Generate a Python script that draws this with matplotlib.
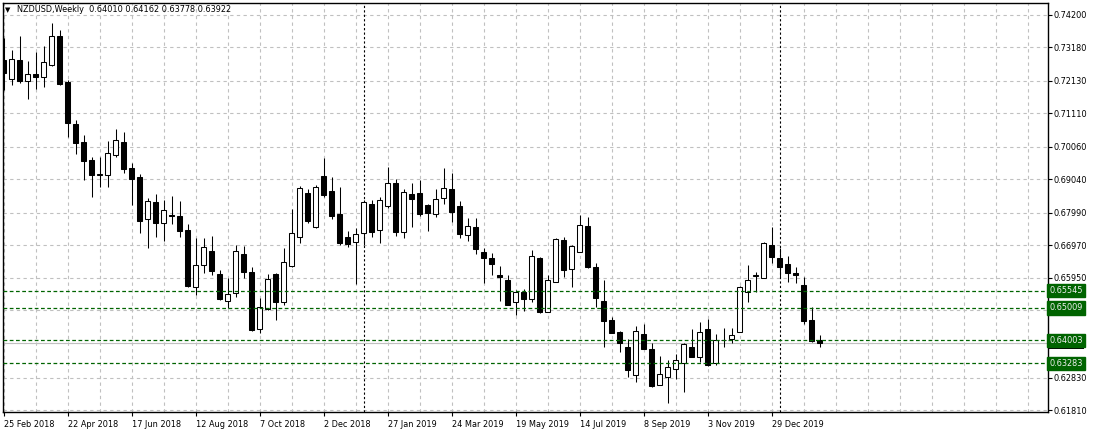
import numpy as np
import matplotlib
matplotlib.use("Agg")
import matplotlib.pyplot as plt
import matplotlib.transforms as mtransforms
from matplotlib.patches import Rectangle

# weekly NZDUSD candles, one per week from 25 Feb 2018
opens = [.7278, .7220, .7278, .7213, .7234, .7226, .7263, .7353, .7210, .7077,
         .7021, .6965, .6917, .6918, .6979, .7021, .6939, .6912, .6779, .6832,
         .6766, .6792, .6789, .6745, .6568, .6635, .6680, .6607, .6522, .6547,
         .6670, .6614, .6436, .6499, .6607, .6521, .6632, .6724, .6860, .6756,
         .6915, .6868, .6795, .6722, .6707, .6737, .6826, .6744, .6821, .6892,
         .6738, .6858, .6860, .6823, .6795, .6845, .6873, .6820, .6730, .6754,
         .6675, .6657, .6604, .6588, .6521, .6550, .6530, .6658, .6489, .6583,
         .6714, .6624, .6677, .6758, .6628, .6523, .6463, .6426, .6379, .6290,
         .6419, .6372, .6259, .6284, .6309, .6329, .6378, .6346, .6434, .6329,
         .6400, .6405, .6427, .6552, .6600, .6596, .6698, .6657, .6638, .6611,
         .6572, .6463, .64010]
highs = [.7346, .7309, .7354, .7275, .7304, .7322, .7395, .7372, .7215, .7090,
         .7043, .6975, .6973, .7024, .7063, .7051, .6954, .6921, .6845, .6857,
         .6839, .6852, .6835, .6764, .6719, .6719, .6727, .6620, .6594, .6698,
         .6695, .6628, .6531, .6607, .6611, .6690, .6810, .6883, .6873, .6886,
         .6970, .6910, .6879, .6743, .6751, .6839, .6839, .6850, .6942, .6904,
         .6874, .6892, .6902, .6827, .6873, .6939, .6925, .6837, .6782, .6782,
         .6688, .6672, .6633, .6604, .6557, .6559, .6683, .6660, .6604, .6719,
         .6724, .6698, .6792, .6787, .6641, .6589, .6474, .6429, .6404, .6445,
         .6451, .6390, .6350, .6338, .6356, .6390, .6435, .6456, .6467, .6419,
         .6438, .6437, .6570, .6636, .6615, .6709, .6756, .6688, .6664, .6630,
         .6599, .6503, .64162]
lows = [.7184, .7201, .7207, .7155, .7186, .7194, .7260, .7200, .7038, .6983,
        .6902, .6850, .6881, .6881, .6975, .6923, .6824, .6735, .6688, .6724,
        .6712, .6763, .6722, .6568, .6542, .6610, .6604, .6526, .6500, .6536,
        .6594, .6430, .6423, .6495, .6463, .6510, .6630, .6706, .6766, .6753,
        .6848, .6780, .6698, .6693, .6576, .6698, .6724, .6706, .6813, .6727,
        .6719, .6756, .6789, .6743, .6787, .6826, .6771, .6719, .6712, .6670,
        .6580, .6604, .6524, .6510, .6479, .6492, .6521, .6486, .6488, .6582,
        .6599, .6568, .6676, .6625, .6503, .6378, .6421, .6362, .6284, .6268,
        .6371, .6254, .6258, .6202, .6277, .6239, .6346, .6332, .6320, .6322,
        .6380, .6392, .6426, .6521, .6552, .6595, .6643, .6599, .6583, .6580,
        .6451, .6395, .63778]
closes = [.7238, .7280, .7213, .7234, .7226, .7272, .7353, .7203, .7082, .7019,
          .6962, .6917, .6920, .6986, .7026, .6937, .6906, .6774, .6837, .6766,
          .6807, .6788, .6743, .6570, .6635, .6691, .6618, .6530, .6545, .6680,
          .6615, .6432, .6505, .6592, .6521, .6644, .6735, .6876, .6774, .6879,
          .6856, .6789, .6704, .6701, .6732, .6832, .6740, .6838, .6892, .6740,
          .6863, .6842, .6795, .6800, .6843, .6878, .6803, .6732, .6759, .6685,
          .6657, .6639, .6597, .6511, .6550, .6530, .6663, .6487, .6588, .6716,
          .6620, .6695, .6760, .6628, .6533, .6461, .6423, .6392, .6308, .6428,
          .6373, .6257, .6294, .6315, .6337, .6387, .6348, .6425, .6322, .6400,
          .6402, .6416, .6566, .6589, .6603, .6704, .6662, .6630, .6610, .6605,
          .6461, .6398, .63922]

date_labels = ["25 Feb 2018", "22 Apr 2018", "17 Jun 2018", "12 Aug 2018",
               "7 Oct 2018", "2 Dec 2018", "27 Jan 2019", "24 Mar 2019",
               "19 May 2019", "14 Jul 2019", "8 Sep 2019", "3 Nov 2019",
               "29 Dec 2019"]
price_ticks = [0.74200, 0.73180, 0.72130, 0.71110, 0.70060, 0.69040, 0.67990,
               0.66970, 0.65950, 0.64930, 0.63910, 0.62830, 0.61810]
levels = [0.65545, 0.65009, 0.64003, 0.63283]
separators = [45, 97]  # first weeks of 2019 and 2020
bid = 0.63922

W, H = 1093, 434
FS = 5.9
fig = plt.figure(figsize=(W / 100, H / 100), dpi=100)
ax = fig.add_axes([2.5 / W, 22 / H, 1045 / W, 409 / H])

n = len(opens)
x = np.arange(n)
o = np.array(opens); c = np.array(closes)
hi = np.array(highs); lo = np.array(lows)
up = c >= o

ax.vlines(x, lo, hi, color="black", lw=0.75, zorder=3)
ax.bar(x, np.abs(c - o), bottom=np.minimum(o, c), width=0.6,
       color=np.where(up, "white", "black"), edgecolor="black", lw=0.75, zorder=4)

ax.set_xlim(-0.125, 130.5)
ax.set_ylim(0.61749, 0.74567)

# grid
for v in price_ticks:
    ax.axhline(v, color="#c0c0c0", lw=0.8, ls=(0, (3, 3)), zorder=1)
for gx in range(0, 131, 4):
    ax.axvline(gx, color="#c0c0c0", lw=0.8, ls=(0, (3, 3)), zorder=1)
for sx in separators:
    ax.axvline(sx, color="black", lw=0.8, ls=(0, (2, 2)), zorder=2)

ax.axhline(bid, color="#c0c0c0", lw=0.8, zorder=2)
for v in levels:
    ax.axhline(v, color="#006400", lw=0.9, ls=(0, (3, 2)), zorder=5)

ax.yaxis.tick_right()
ax.set_yticks(price_ticks)
# the two scale labels under the level boxes are hidden in the chart
ax.set_yticklabels(["" if v in (0.64930, 0.63910) else "%.5f" % v for v in price_ticks])
ax.set_xticks(np.arange(0, 8 * len(date_labels), 8))
ax.set_xticklabels(date_labels, ha="left")
ax.tick_params(axis="both", direction="out", length=3, width=0.8,
               labelsize=FS, colors="black", pad=1.5)
ax.tick_params(axis="x", pad=3)
for sp in ax.spines.values():
    sp.set_color("black")
    sp.set_linewidth(1)

# price labels on right scale
trans = mtransforms.blended_transform_factory(ax.transAxes, ax.transData)
# bid marker, mostly covered by the 0.64003 box
ax.add_patch(Rectangle((1.0012, bid - 0.0019), 0.0340, 0.0031, transform=trans,
                       fc="black", ec="none", clip_on=False, zorder=6))
for v in levels:
    ax.text(1.0018, v, "%.5f" % v, transform=trans, va="center", ha="left",
            fontsize=FS, color="#f0f0f0", clip_on=False, zorder=7,
            bbox=dict(boxstyle="square,pad=0.25", fc="#006400", ec="#006400"))

fig.text(5 / W, 1 - 10 / H, "\u25bc", fontsize=5, va="center", ha="left")
fig.text(17 / W, 1 - 10 / H,
         "NZDUSD,Weekly  %.5f %.5f %.5f %.5f" % (opens[-1], highs[-1], lows[-1], closes[-1]),
         fontsize=FS, va="center", ha="left")

fig.savefig("out.png", dpi=100)
